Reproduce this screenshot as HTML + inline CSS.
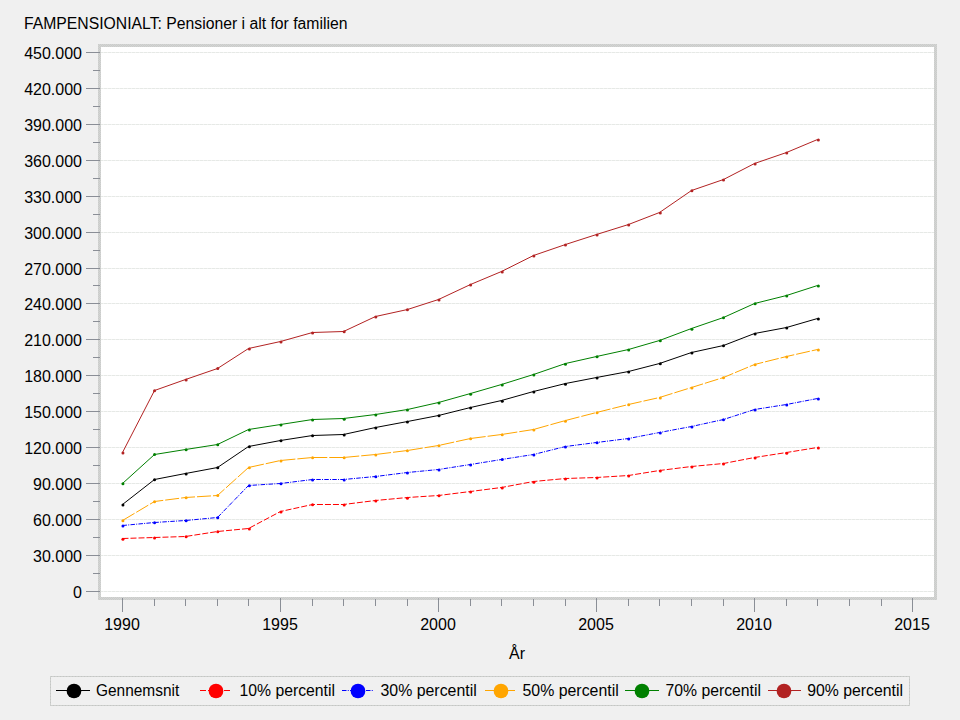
<!DOCTYPE html><html><head><meta charset="utf-8"><style>html,body{margin:0;padding:0;background:#f0f0f0;}svg{display:block}text{font-family:"Liberation Sans",sans-serif;font-size:16px;fill:#000}</style></head><body>
<svg width="960" height="720" viewBox="0 0 960 720">
<rect x="0" y="0" width="960" height="720" fill="#f0f0f0"/>
<text x="24" y="29" textLength="323.5" lengthAdjust="spacingAndGlyphs">FAMPENSIONIALT: Pensioner i alt for familien</text>
<defs><pattern id="chk" width="2" height="2" patternUnits="userSpaceOnUse"><rect width="2" height="2" fill="#d4d4d4"/><rect width="1" height="1" fill="#cacdca"/><rect x="1" y="1" width="1" height="1" fill="#cacdca"/></pattern></defs>
<rect x="98" y="44" width="839" height="556" fill="url(#chk)"/>
<rect x="101" y="47" width="833" height="550" fill="#ffffff"/>
<line x1="101" y1="52.5" x2="934" y2="52.5" stroke="#e6e9e6" stroke-width="1" stroke-dasharray="3 1" stroke-dashoffset="1"/><line x1="101" y1="52.5" x2="934" y2="52.5" stroke="#f1f2f1" stroke-width="1" stroke-dasharray="1 3" stroke-dashoffset="2"/>
<line x1="101" y1="88.5" x2="934" y2="88.5" stroke="#e6e9e6" stroke-width="1" stroke-dasharray="3 1" stroke-dashoffset="1"/><line x1="101" y1="88.5" x2="934" y2="88.5" stroke="#f1f2f1" stroke-width="1" stroke-dasharray="1 3" stroke-dashoffset="2"/>
<line x1="101" y1="124.5" x2="934" y2="124.5" stroke="#e6e9e6" stroke-width="1" stroke-dasharray="3 1" stroke-dashoffset="1"/><line x1="101" y1="124.5" x2="934" y2="124.5" stroke="#f1f2f1" stroke-width="1" stroke-dasharray="1 3" stroke-dashoffset="2"/>
<line x1="101" y1="160.5" x2="934" y2="160.5" stroke="#e6e9e6" stroke-width="1" stroke-dasharray="3 1" stroke-dashoffset="1"/><line x1="101" y1="160.5" x2="934" y2="160.5" stroke="#f1f2f1" stroke-width="1" stroke-dasharray="1 3" stroke-dashoffset="2"/>
<line x1="101" y1="196.5" x2="934" y2="196.5" stroke="#e6e9e6" stroke-width="1" stroke-dasharray="3 1" stroke-dashoffset="1"/><line x1="101" y1="196.5" x2="934" y2="196.5" stroke="#f1f2f1" stroke-width="1" stroke-dasharray="1 3" stroke-dashoffset="2"/>
<line x1="101" y1="232.5" x2="934" y2="232.5" stroke="#e6e9e6" stroke-width="1" stroke-dasharray="3 1" stroke-dashoffset="1"/><line x1="101" y1="232.5" x2="934" y2="232.5" stroke="#f1f2f1" stroke-width="1" stroke-dasharray="1 3" stroke-dashoffset="2"/>
<line x1="101" y1="268.5" x2="934" y2="268.5" stroke="#e6e9e6" stroke-width="1" stroke-dasharray="3 1" stroke-dashoffset="1"/><line x1="101" y1="268.5" x2="934" y2="268.5" stroke="#f1f2f1" stroke-width="1" stroke-dasharray="1 3" stroke-dashoffset="2"/>
<line x1="101" y1="303.5" x2="934" y2="303.5" stroke="#e6e9e6" stroke-width="1" stroke-dasharray="3 1" stroke-dashoffset="1"/><line x1="101" y1="303.5" x2="934" y2="303.5" stroke="#f1f2f1" stroke-width="1" stroke-dasharray="1 3" stroke-dashoffset="2"/>
<line x1="101" y1="339.5" x2="934" y2="339.5" stroke="#e6e9e6" stroke-width="1" stroke-dasharray="3 1" stroke-dashoffset="1"/><line x1="101" y1="339.5" x2="934" y2="339.5" stroke="#f1f2f1" stroke-width="1" stroke-dasharray="1 3" stroke-dashoffset="2"/>
<line x1="101" y1="375.5" x2="934" y2="375.5" stroke="#e6e9e6" stroke-width="1" stroke-dasharray="3 1" stroke-dashoffset="1"/><line x1="101" y1="375.5" x2="934" y2="375.5" stroke="#f1f2f1" stroke-width="1" stroke-dasharray="1 3" stroke-dashoffset="2"/>
<line x1="101" y1="411.5" x2="934" y2="411.5" stroke="#e6e9e6" stroke-width="1" stroke-dasharray="3 1" stroke-dashoffset="1"/><line x1="101" y1="411.5" x2="934" y2="411.5" stroke="#f1f2f1" stroke-width="1" stroke-dasharray="1 3" stroke-dashoffset="2"/>
<line x1="101" y1="447.5" x2="934" y2="447.5" stroke="#e6e9e6" stroke-width="1" stroke-dasharray="3 1" stroke-dashoffset="1"/><line x1="101" y1="447.5" x2="934" y2="447.5" stroke="#f1f2f1" stroke-width="1" stroke-dasharray="1 3" stroke-dashoffset="2"/>
<line x1="101" y1="483.5" x2="934" y2="483.5" stroke="#e6e9e6" stroke-width="1" stroke-dasharray="3 1" stroke-dashoffset="1"/><line x1="101" y1="483.5" x2="934" y2="483.5" stroke="#f1f2f1" stroke-width="1" stroke-dasharray="1 3" stroke-dashoffset="2"/>
<line x1="101" y1="519.5" x2="934" y2="519.5" stroke="#e6e9e6" stroke-width="1" stroke-dasharray="3 1" stroke-dashoffset="1"/><line x1="101" y1="519.5" x2="934" y2="519.5" stroke="#f1f2f1" stroke-width="1" stroke-dasharray="1 3" stroke-dashoffset="2"/>
<line x1="101" y1="555.5" x2="934" y2="555.5" stroke="#e6e9e6" stroke-width="1" stroke-dasharray="3 1" stroke-dashoffset="1"/><line x1="101" y1="555.5" x2="934" y2="555.5" stroke="#f1f2f1" stroke-width="1" stroke-dasharray="1 3" stroke-dashoffset="2"/>
<line x1="101" y1="591.5" x2="934" y2="591.5" stroke="#e6e9e6" stroke-width="1" stroke-dasharray="3 1" stroke-dashoffset="1"/><line x1="101" y1="591.5" x2="934" y2="591.5" stroke="#f1f2f1" stroke-width="1" stroke-dasharray="1 3" stroke-dashoffset="2"/>
<line x1="86" y1="52.5" x2="100" y2="52.5" stroke="#8a8e96" stroke-width="1"/>
<text x="82" y="58.5" text-anchor="end">450.000</text>
<line x1="86" y1="88.5" x2="100" y2="88.5" stroke="#8a8e96" stroke-width="1"/>
<text x="82" y="94.5" text-anchor="end">420.000</text>
<line x1="86" y1="124.5" x2="100" y2="124.5" stroke="#8a8e96" stroke-width="1"/>
<text x="82" y="130.5" text-anchor="end">390.000</text>
<line x1="86" y1="160.5" x2="100" y2="160.5" stroke="#8a8e96" stroke-width="1"/>
<text x="82" y="166.5" text-anchor="end">360.000</text>
<line x1="86" y1="196.5" x2="100" y2="196.5" stroke="#8a8e96" stroke-width="1"/>
<text x="82" y="202.5" text-anchor="end">330.000</text>
<line x1="86" y1="232.5" x2="100" y2="232.5" stroke="#8a8e96" stroke-width="1"/>
<text x="82" y="238.5" text-anchor="end">300.000</text>
<line x1="86" y1="268.5" x2="100" y2="268.5" stroke="#8a8e96" stroke-width="1"/>
<text x="82" y="274.5" text-anchor="end">270.000</text>
<line x1="86" y1="303.5" x2="100" y2="303.5" stroke="#8a8e96" stroke-width="1"/>
<text x="82" y="309.5" text-anchor="end">240.000</text>
<line x1="86" y1="339.5" x2="100" y2="339.5" stroke="#8a8e96" stroke-width="1"/>
<text x="82" y="345.5" text-anchor="end">210.000</text>
<line x1="86" y1="375.5" x2="100" y2="375.5" stroke="#8a8e96" stroke-width="1"/>
<text x="82" y="381.5" text-anchor="end">180.000</text>
<line x1="86" y1="411.5" x2="100" y2="411.5" stroke="#8a8e96" stroke-width="1"/>
<text x="82" y="417.5" text-anchor="end">150.000</text>
<line x1="86" y1="447.5" x2="100" y2="447.5" stroke="#8a8e96" stroke-width="1"/>
<text x="82" y="453.5" text-anchor="end">120.000</text>
<line x1="86" y1="483.5" x2="100" y2="483.5" stroke="#8a8e96" stroke-width="1"/>
<text x="82" y="489.5" text-anchor="end">90.000</text>
<line x1="86" y1="519.5" x2="100" y2="519.5" stroke="#8a8e96" stroke-width="1"/>
<text x="82" y="525.5" text-anchor="end">60.000</text>
<line x1="86" y1="555.5" x2="100" y2="555.5" stroke="#8a8e96" stroke-width="1"/>
<text x="82" y="561.5" text-anchor="end">30.000</text>
<line x1="86" y1="591.5" x2="100" y2="591.5" stroke="#8a8e96" stroke-width="1"/>
<text x="82" y="597.5" text-anchor="end">0</text>
<line x1="93" y1="70.5" x2="100" y2="70.5" stroke="#8a8e96" stroke-width="1"/>
<line x1="93" y1="106.5" x2="100" y2="106.5" stroke="#8a8e96" stroke-width="1"/>
<line x1="93" y1="142.5" x2="100" y2="142.5" stroke="#8a8e96" stroke-width="1"/>
<line x1="93" y1="178.5" x2="100" y2="178.5" stroke="#8a8e96" stroke-width="1"/>
<line x1="93" y1="214.5" x2="100" y2="214.5" stroke="#8a8e96" stroke-width="1"/>
<line x1="93" y1="250.5" x2="100" y2="250.5" stroke="#8a8e96" stroke-width="1"/>
<line x1="93" y1="285.5" x2="100" y2="285.5" stroke="#8a8e96" stroke-width="1"/>
<line x1="93" y1="321.5" x2="100" y2="321.5" stroke="#8a8e96" stroke-width="1"/>
<line x1="93" y1="357.5" x2="100" y2="357.5" stroke="#8a8e96" stroke-width="1"/>
<line x1="93" y1="393.5" x2="100" y2="393.5" stroke="#8a8e96" stroke-width="1"/>
<line x1="93" y1="429.5" x2="100" y2="429.5" stroke="#8a8e96" stroke-width="1"/>
<line x1="93" y1="465.5" x2="100" y2="465.5" stroke="#8a8e96" stroke-width="1"/>
<line x1="93" y1="501.5" x2="100" y2="501.5" stroke="#8a8e96" stroke-width="1"/>
<line x1="93" y1="537.5" x2="100" y2="537.5" stroke="#8a8e96" stroke-width="1"/>
<line x1="93" y1="573.5" x2="100" y2="573.5" stroke="#8a8e96" stroke-width="1"/>
<line x1="122.5" y1="598" x2="122.5" y2="612" stroke="#8a8e96" stroke-width="1"/>
<text x="122.00" y="630" text-anchor="middle">1990</text>
<line x1="154.5" y1="599" x2="154.5" y2="606" stroke="#8a8e96" stroke-width="1"/>
<line x1="185.5" y1="599" x2="185.5" y2="606" stroke="#8a8e96" stroke-width="1"/>
<line x1="217.5" y1="599" x2="217.5" y2="606" stroke="#8a8e96" stroke-width="1"/>
<line x1="248.5" y1="599" x2="248.5" y2="606" stroke="#8a8e96" stroke-width="1"/>
<line x1="280.5" y1="598" x2="280.5" y2="612" stroke="#8a8e96" stroke-width="1"/>
<text x="280.00" y="630" text-anchor="middle">1995</text>
<line x1="312.5" y1="599" x2="312.5" y2="606" stroke="#8a8e96" stroke-width="1"/>
<line x1="343.5" y1="599" x2="343.5" y2="606" stroke="#8a8e96" stroke-width="1"/>
<line x1="375.5" y1="599" x2="375.5" y2="606" stroke="#8a8e96" stroke-width="1"/>
<line x1="407.5" y1="599" x2="407.5" y2="606" stroke="#8a8e96" stroke-width="1"/>
<line x1="438.5" y1="598" x2="438.5" y2="612" stroke="#8a8e96" stroke-width="1"/>
<text x="438.00" y="630" text-anchor="middle">2000</text>
<line x1="470.5" y1="599" x2="470.5" y2="606" stroke="#8a8e96" stroke-width="1"/>
<line x1="501.5" y1="599" x2="501.5" y2="606" stroke="#8a8e96" stroke-width="1"/>
<line x1="533.5" y1="599" x2="533.5" y2="606" stroke="#8a8e96" stroke-width="1"/>
<line x1="565.5" y1="599" x2="565.5" y2="606" stroke="#8a8e96" stroke-width="1"/>
<line x1="596.5" y1="598" x2="596.5" y2="612" stroke="#8a8e96" stroke-width="1"/>
<text x="596.00" y="630" text-anchor="middle">2005</text>
<line x1="628.5" y1="599" x2="628.5" y2="606" stroke="#8a8e96" stroke-width="1"/>
<line x1="659.5" y1="599" x2="659.5" y2="606" stroke="#8a8e96" stroke-width="1"/>
<line x1="691.5" y1="599" x2="691.5" y2="606" stroke="#8a8e96" stroke-width="1"/>
<line x1="723.5" y1="599" x2="723.5" y2="606" stroke="#8a8e96" stroke-width="1"/>
<line x1="754.5" y1="598" x2="754.5" y2="612" stroke="#8a8e96" stroke-width="1"/>
<text x="754.00" y="630" text-anchor="middle">2010</text>
<line x1="786.5" y1="599" x2="786.5" y2="606" stroke="#8a8e96" stroke-width="1"/>
<line x1="817.5" y1="599" x2="817.5" y2="606" stroke="#8a8e96" stroke-width="1"/>
<line x1="849.5" y1="599" x2="849.5" y2="606" stroke="#8a8e96" stroke-width="1"/>
<line x1="881.5" y1="599" x2="881.5" y2="606" stroke="#8a8e96" stroke-width="1"/>
<line x1="912.5" y1="598" x2="912.5" y2="612" stroke="#8a8e96" stroke-width="1"/>
<text x="912.00" y="630" text-anchor="middle">2015</text>
<text x="517" y="659" text-anchor="middle">År</text>
<polyline points="122.50,452.5 154.50,390.5 185.50,379.5 217.50,368.5 248.50,348.5 280.50,341.5 312.50,332.5 343.50,331.5 375.50,316.5 407.50,309.5 438.50,299.5 470.50,284.5 501.50,271.5 533.50,255.5 565.50,244.5 596.50,234.5 628.50,224.5 659.50,212.5 691.50,190.5 723.50,179.5 754.50,163.5 786.50,152.5 817.50,139.5" fill="none" stroke="#b22222" stroke-width="1"/>
<circle cx="122.93" cy="453" r="1.5" fill="#b22222"/>
<circle cx="154.54" cy="390.8" r="1.5" fill="#b22222"/>
<circle cx="186.15" cy="380" r="1.5" fill="#b22222"/>
<circle cx="217.76" cy="368.6" r="1.5" fill="#b22222"/>
<circle cx="249.37" cy="349" r="1.5" fill="#b22222"/>
<circle cx="280.98" cy="341.9" r="1.5" fill="#b22222"/>
<circle cx="312.59" cy="332.9" r="1.5" fill="#b22222"/>
<circle cx="344.20" cy="331.8" r="1.5" fill="#b22222"/>
<circle cx="375.81" cy="317" r="1.5" fill="#b22222"/>
<circle cx="407.42" cy="309.7" r="1.5" fill="#b22222"/>
<circle cx="439.03" cy="299.9" r="1.5" fill="#b22222"/>
<circle cx="470.64" cy="285" r="1.5" fill="#b22222"/>
<circle cx="502.25" cy="272.1" r="1.5" fill="#b22222"/>
<circle cx="533.86" cy="255.9" r="1.5" fill="#b22222"/>
<circle cx="565.47" cy="245" r="1.5" fill="#b22222"/>
<circle cx="597.08" cy="235" r="1.5" fill="#b22222"/>
<circle cx="628.69" cy="225" r="1.5" fill="#b22222"/>
<circle cx="660.30" cy="213" r="1.5" fill="#b22222"/>
<circle cx="691.91" cy="190.75" r="1.5" fill="#b22222"/>
<circle cx="723.52" cy="180" r="1.5" fill="#b22222"/>
<circle cx="755.13" cy="164" r="1.5" fill="#b22222"/>
<circle cx="786.74" cy="153" r="1.5" fill="#b22222"/>
<circle cx="818.35" cy="140" r="1.5" fill="#b22222"/>
<polyline points="122.50,483.5 154.50,454.5 185.50,449.5 217.50,444.5 248.50,429.5 280.50,424.5 312.50,419.5 343.50,418.5 375.50,414.5 407.50,409.5 438.50,402.5 470.50,393.5 501.50,384.5 533.50,374.5 565.50,363.5 596.50,356.5 628.50,349.5 659.50,340.5 691.50,328.5 723.50,317.5 754.50,303.5 786.50,295.5 817.50,285.5" fill="none" stroke="#008000" stroke-width="1"/>
<circle cx="122.93" cy="483.8" r="1.5" fill="#008000"/>
<circle cx="154.54" cy="454.6" r="1.5" fill="#008000"/>
<circle cx="186.15" cy="449.8" r="1.5" fill="#008000"/>
<circle cx="217.76" cy="444.8" r="1.5" fill="#008000"/>
<circle cx="249.37" cy="430" r="1.5" fill="#008000"/>
<circle cx="280.98" cy="425" r="1.5" fill="#008000"/>
<circle cx="312.59" cy="420" r="1.5" fill="#008000"/>
<circle cx="344.20" cy="419.2" r="1.5" fill="#008000"/>
<circle cx="375.81" cy="415" r="1.5" fill="#008000"/>
<circle cx="407.42" cy="410" r="1.5" fill="#008000"/>
<circle cx="439.03" cy="403" r="1.5" fill="#008000"/>
<circle cx="470.64" cy="394.2" r="1.5" fill="#008000"/>
<circle cx="502.25" cy="385" r="1.5" fill="#008000"/>
<circle cx="533.86" cy="375" r="1.5" fill="#008000"/>
<circle cx="565.47" cy="364.2" r="1.5" fill="#008000"/>
<circle cx="597.08" cy="356.7" r="1.5" fill="#008000"/>
<circle cx="628.69" cy="350" r="1.5" fill="#008000"/>
<circle cx="660.30" cy="340.8" r="1.5" fill="#008000"/>
<circle cx="691.91" cy="329.2" r="1.5" fill="#008000"/>
<circle cx="723.52" cy="317.8" r="1.5" fill="#008000"/>
<circle cx="755.13" cy="303.7" r="1.5" fill="#008000"/>
<circle cx="786.74" cy="296" r="1.5" fill="#008000"/>
<circle cx="818.35" cy="286" r="1.5" fill="#008000"/>
<polyline points="122.50,504.5 154.50,479.5 185.50,473.5 217.50,467.5 248.50,446.5 280.50,440.5 312.50,435.5 343.50,434.5 375.50,427.5 407.50,421.5 438.50,415.5 470.50,407.5 501.50,400.5 533.50,391.5 565.50,383.5 596.50,377.5 628.50,371.5 659.50,363.5 691.50,352.5 723.50,345.5 754.50,333.5 786.50,327.5 817.50,318.5" fill="none" stroke="#000000" stroke-width="1"/>
<circle cx="122.93" cy="505" r="1.5" fill="#000000"/>
<circle cx="154.54" cy="479.7" r="1.5" fill="#000000"/>
<circle cx="186.15" cy="474" r="1.5" fill="#000000"/>
<circle cx="217.76" cy="467.7" r="1.5" fill="#000000"/>
<circle cx="249.37" cy="446.8" r="1.5" fill="#000000"/>
<circle cx="280.98" cy="440.8" r="1.5" fill="#000000"/>
<circle cx="312.59" cy="435.8" r="1.5" fill="#000000"/>
<circle cx="344.20" cy="435" r="1.5" fill="#000000"/>
<circle cx="375.81" cy="428" r="1.5" fill="#000000"/>
<circle cx="407.42" cy="422" r="1.5" fill="#000000"/>
<circle cx="439.03" cy="415.8" r="1.5" fill="#000000"/>
<circle cx="470.64" cy="408" r="1.5" fill="#000000"/>
<circle cx="502.25" cy="401.2" r="1.5" fill="#000000"/>
<circle cx="533.86" cy="392" r="1.5" fill="#000000"/>
<circle cx="565.47" cy="384.2" r="1.5" fill="#000000"/>
<circle cx="597.08" cy="378" r="1.5" fill="#000000"/>
<circle cx="628.69" cy="372" r="1.5" fill="#000000"/>
<circle cx="660.30" cy="363.8" r="1.5" fill="#000000"/>
<circle cx="691.91" cy="353" r="1.5" fill="#000000"/>
<circle cx="723.52" cy="345.8" r="1.5" fill="#000000"/>
<circle cx="755.13" cy="334" r="1.5" fill="#000000"/>
<circle cx="786.74" cy="327.9" r="1.5" fill="#000000"/>
<circle cx="818.35" cy="319" r="1.5" fill="#000000"/>
<polyline points="122.50,520.5 154.50,501.5 185.50,497.5 217.50,495.5 248.50,467.5 280.50,460.5 312.50,457.5 343.50,457.5 375.50,454.5 407.50,450.5 438.50,445.5 470.50,438.5 501.50,434.5 533.50,429.5 565.50,420.5 596.50,412.5 628.50,404.5 659.50,397.5 691.50,387.5 723.50,377.5 754.50,364.5 786.50,356.5 817.50,349.5" fill="none" stroke="#ffa500" stroke-width="1" stroke-dasharray="14 2"/>
<circle cx="122.93" cy="520.8" r="1.5" fill="#ffa500"/>
<circle cx="154.54" cy="501.7" r="1.5" fill="#ffa500"/>
<circle cx="186.15" cy="497.8" r="1.5" fill="#ffa500"/>
<circle cx="217.76" cy="495.5" r="1.5" fill="#ffa500"/>
<circle cx="249.37" cy="467.8" r="1.5" fill="#ffa500"/>
<circle cx="280.98" cy="461" r="1.5" fill="#ffa500"/>
<circle cx="312.59" cy="457.8" r="1.5" fill="#ffa500"/>
<circle cx="344.20" cy="457.8" r="1.5" fill="#ffa500"/>
<circle cx="375.81" cy="455" r="1.5" fill="#ffa500"/>
<circle cx="407.42" cy="450.8" r="1.5" fill="#ffa500"/>
<circle cx="439.03" cy="445.8" r="1.5" fill="#ffa500"/>
<circle cx="470.64" cy="438.7" r="1.5" fill="#ffa500"/>
<circle cx="502.25" cy="434.8" r="1.5" fill="#ffa500"/>
<circle cx="533.86" cy="430" r="1.5" fill="#ffa500"/>
<circle cx="565.47" cy="421.2" r="1.5" fill="#ffa500"/>
<circle cx="597.08" cy="412.8" r="1.5" fill="#ffa500"/>
<circle cx="628.69" cy="404.7" r="1.5" fill="#ffa500"/>
<circle cx="660.30" cy="398" r="1.5" fill="#ffa500"/>
<circle cx="691.91" cy="388" r="1.5" fill="#ffa500"/>
<circle cx="723.52" cy="377.8" r="1.5" fill="#ffa500"/>
<circle cx="755.13" cy="364.7" r="1.5" fill="#ffa500"/>
<circle cx="786.74" cy="356.9" r="1.5" fill="#ffa500"/>
<circle cx="818.35" cy="350" r="1.5" fill="#ffa500"/>
<polyline points="122.50,525.5 154.50,522.5 185.50,520.5 217.50,517.5 248.50,485.5 280.50,483.5 312.50,479.5 343.50,479.5 375.50,476.5 407.50,472.5 438.50,469.5 470.50,464.5 501.50,459.5 533.50,454.5 565.50,446.5 596.50,442.5 628.50,438.5 659.50,432.5 691.50,426.5 723.50,419.5 754.50,409.5 786.50,404.5 817.50,398.5" fill="none" stroke="#0000ff" stroke-width="1" stroke-dasharray="4.5 1.25 1 1.25"/>
<circle cx="122.93" cy="526" r="1.5" fill="#0000ff"/>
<circle cx="154.54" cy="522.8" r="1.5" fill="#0000ff"/>
<circle cx="186.15" cy="520.8" r="1.5" fill="#0000ff"/>
<circle cx="217.76" cy="517.8" r="1.5" fill="#0000ff"/>
<circle cx="249.37" cy="485.8" r="1.5" fill="#0000ff"/>
<circle cx="280.98" cy="483.8" r="1.5" fill="#0000ff"/>
<circle cx="312.59" cy="480" r="1.5" fill="#0000ff"/>
<circle cx="344.20" cy="480" r="1.5" fill="#0000ff"/>
<circle cx="375.81" cy="476.8" r="1.5" fill="#0000ff"/>
<circle cx="407.42" cy="473" r="1.5" fill="#0000ff"/>
<circle cx="439.03" cy="470" r="1.5" fill="#0000ff"/>
<circle cx="470.64" cy="465" r="1.5" fill="#0000ff"/>
<circle cx="502.25" cy="459.6" r="1.5" fill="#0000ff"/>
<circle cx="533.86" cy="455" r="1.5" fill="#0000ff"/>
<circle cx="565.47" cy="447" r="1.5" fill="#0000ff"/>
<circle cx="597.08" cy="442.8" r="1.5" fill="#0000ff"/>
<circle cx="628.69" cy="439" r="1.5" fill="#0000ff"/>
<circle cx="660.30" cy="433" r="1.5" fill="#0000ff"/>
<circle cx="691.91" cy="427" r="1.5" fill="#0000ff"/>
<circle cx="723.52" cy="419.75" r="1.5" fill="#0000ff"/>
<circle cx="755.13" cy="410" r="1.5" fill="#0000ff"/>
<circle cx="786.74" cy="405" r="1.5" fill="#0000ff"/>
<circle cx="818.35" cy="399" r="1.5" fill="#0000ff"/>
<polyline points="122.50,538.5 154.50,537.5 185.50,536.5 217.50,531.5 248.50,528.5 280.50,511.5 312.50,504.5 343.50,504.5 375.50,500.5 407.50,497.5 438.50,495.5 470.50,491.5 501.50,487.5 533.50,481.5 565.50,478.5 596.50,477.5 628.50,475.5 659.50,470.5 691.50,466.5 723.50,463.5 754.50,457.5 786.50,452.5 817.50,447.5" fill="none" stroke="#ff0000" stroke-width="1" stroke-dasharray="6 2"/>
<circle cx="122.93" cy="539.2" r="1.5" fill="#ff0000"/>
<circle cx="154.54" cy="538" r="1.5" fill="#ff0000"/>
<circle cx="186.15" cy="536.7" r="1.5" fill="#ff0000"/>
<circle cx="217.76" cy="531.8" r="1.5" fill="#ff0000"/>
<circle cx="249.37" cy="529.1" r="1.5" fill="#ff0000"/>
<circle cx="280.98" cy="511.9" r="1.5" fill="#ff0000"/>
<circle cx="312.59" cy="504.8" r="1.5" fill="#ff0000"/>
<circle cx="344.20" cy="505" r="1.5" fill="#ff0000"/>
<circle cx="375.81" cy="501" r="1.5" fill="#ff0000"/>
<circle cx="407.42" cy="498.2" r="1.5" fill="#ff0000"/>
<circle cx="439.03" cy="495.8" r="1.5" fill="#ff0000"/>
<circle cx="470.64" cy="492" r="1.5" fill="#ff0000"/>
<circle cx="502.25" cy="488.1" r="1.5" fill="#ff0000"/>
<circle cx="533.86" cy="482.3" r="1.5" fill="#ff0000"/>
<circle cx="565.47" cy="479.1" r="1.5" fill="#ff0000"/>
<circle cx="597.08" cy="478.1" r="1.5" fill="#ff0000"/>
<circle cx="628.69" cy="475.9" r="1.5" fill="#ff0000"/>
<circle cx="660.30" cy="471" r="1.5" fill="#ff0000"/>
<circle cx="691.91" cy="467.1" r="1.5" fill="#ff0000"/>
<circle cx="723.52" cy="464.1" r="1.5" fill="#ff0000"/>
<circle cx="755.13" cy="458.1" r="1.5" fill="#ff0000"/>
<circle cx="786.74" cy="453.2" r="1.5" fill="#ff0000"/>
<circle cx="818.35" cy="448.1" r="1.5" fill="#ff0000"/>
<rect x="50.5" y="676.5" width="859" height="29" fill="none" stroke="#d8dad8" stroke-width="1"/>
<rect x="50.5" y="676.5" width="859" height="29" fill="none" stroke="#c4c6c4" stroke-width="1" stroke-dasharray="2 1"/>
<line x1="56" y1="690.5" x2="90" y2="690.5" stroke="#000000" stroke-width="1"/>
<circle cx="74" cy="691" r="7.35" fill="#000000"/>
<text x="96" y="696" textLength="83.2" lengthAdjust="spacingAndGlyphs">Gennemsnit</text>
<line x1="200" y1="690.5" x2="230" y2="690.5" stroke="#ff0000" stroke-width="1" stroke-dasharray="6 2"/>
<circle cx="216" cy="691" r="7.35" fill="#ff0000"/>
<text x="239.5" y="696" textLength="95.4" lengthAdjust="spacingAndGlyphs">10% percentil</text>
<line x1="342" y1="690.5" x2="373" y2="690.5" stroke="#0000ff" stroke-width="1" stroke-dasharray="4.5 1.25 1 1.25"/>
<circle cx="358" cy="691" r="7.35" fill="#0000ff"/>
<text x="380.5" y="696" textLength="96.2" lengthAdjust="spacingAndGlyphs">30% percentil</text>
<line x1="485" y1="690.5" x2="515" y2="690.5" stroke="#ffa500" stroke-width="1" stroke-dasharray="14 2"/>
<circle cx="501" cy="691" r="7.35" fill="#ffa500"/>
<text x="522.5" y="696" textLength="96.2" lengthAdjust="spacingAndGlyphs">50% percentil</text>
<line x1="625" y1="690.5" x2="659" y2="690.5" stroke="#008000" stroke-width="1"/>
<circle cx="642" cy="691" r="7.35" fill="#008000"/>
<text x="665.6" y="696" textLength="95.4" lengthAdjust="spacingAndGlyphs">70% percentil</text>
<line x1="768" y1="690.5" x2="801" y2="690.5" stroke="#b22222" stroke-width="1"/>
<circle cx="784" cy="691" r="7.35" fill="#b22222"/>
<text x="807.3" y="696" textLength="95.7" lengthAdjust="spacingAndGlyphs">90% percentil</text>
</svg></body></html>
